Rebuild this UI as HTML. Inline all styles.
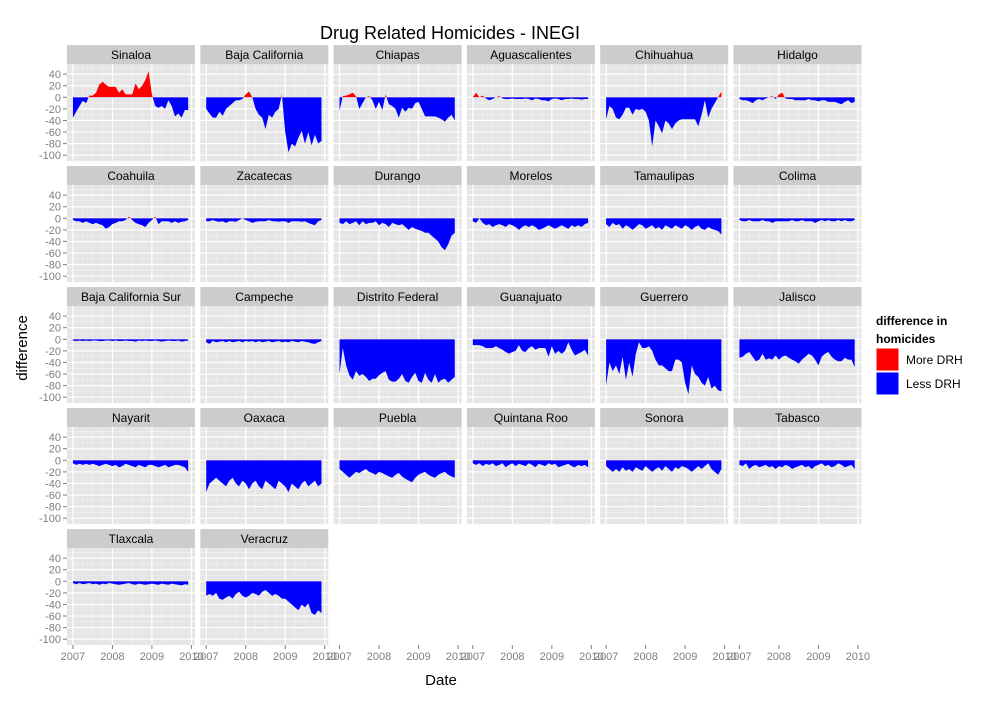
<!DOCTYPE html>
<html><head><meta charset="utf-8"><style>
body{margin:0;background:#fff;font-family:"Liberation Sans",sans-serif}
svg text{font-family:"Liberation Sans",sans-serif}
</style></head><body>
<svg id="c" width="1000" height="700" xmlns="http://www.w3.org/2000/svg">
<text x="450" y="39" font-size="18" text-anchor="middle">Drug Related Homicides - INEGI</text>
<text x="441" y="685" font-size="15" text-anchor="middle">Date</text>
<text transform="translate(27,348) rotate(-90)" font-size="15" text-anchor="middle">difference</text>
<g>
<text x="876" y="325" font-size="12" font-weight="bold">difference in</text>
<text x="876" y="343" font-size="12" font-weight="bold">homicides</text>
<rect x="876" y="348" width="23" height="23" fill="#ff0000" stroke="#fff"/>
<rect x="876" y="372" width="23" height="23" fill="#0000ff" stroke="#fff"/>
<text x="906" y="364" font-size="12">More DRH</text>
<text x="906" y="388" font-size="12">Less DRH</text>
</g>
<g id="plots"></g>
</svg>
<script>
const states = ["Sinaloa","Baja California","Chiapas","Aguascalientes","Chihuahua","Hidalgo","Coahuila","Zacatecas","Durango","Morelos","Tamaulipas","Colima","Baja California Sur","Campeche","Distrito Federal","Guanajuato","Guerrero","Jalisco","Nayarit","Oaxaca","Puebla","Quintana Roo","Sonora","Tabasco","Tlaxcala","Veracruz"];
const yTicks = [40,20,0,-20,-40,-60,-80,-100];
const xTicks = [2007,2008,2009,2010];
const values = [
[-35,-25,-15,-6,-10,3,3,8,22,27,22,18,18,18,8,14,5,5,5,24,14,20,30,45,5,-15,-18,-15,-20,-5,-15,-33,-28,-35,-22,-22],
[-20,-28,-35,-35,-25,-32,-20,-15,-10,-5,-5,-3,5,10,0,-20,-30,-35,-55,-30,-35,-25,-20,5,-60,-95,-80,-85,-70,-58,-80,-60,-83,-65,-80,-75],
[-23,2,3,5,8,2,-20,-10,0,2,-5,-20,-8,-22,5,-12,-15,-20,-35,-18,-25,-18,-20,-10,-8,-20,-33,-33,-33,-33,-35,-38,-42,-35,-30,-40],
[0,8,0,3,-2,-5,-3,0,2,-2,-3,-3,-2,-3,-3,-3,-2,-3,-5,-2,-3,-5,-5,-7,-3,-2,-3,-5,-3,-3,-2,-3,-3,-4,-3,-3],
[-38,-15,-20,-35,-38,-30,-18,-18,-30,-20,-22,-20,-25,-40,-85,-40,-50,-62,-40,-45,-55,-45,-40,-38,-38,-38,-38,-38,-50,-30,-5,-35,-20,-10,0,10],
[-3,-5,-5,-7,-10,-5,-3,-5,-2,0,2,-3,5,8,-2,-3,-3,-5,-5,-5,-5,-3,-5,-5,-7,-5,-5,-8,-8,-8,-10,-12,-8,-5,-10,-8],
[-3,-5,-5,-8,-5,-8,-10,-8,-10,-12,-18,-15,-10,-8,-5,-5,-3,3,-3,-8,-10,-12,-15,-8,-3,3,-10,-5,-5,-5,-8,-5,-8,-6,-5,-3],
[-5,-5,-3,-5,-6,-5,-8,-5,-5,-6,-3,0,-3,-5,-8,-6,-5,-5,-5,-3,-5,-5,-6,-5,-5,-8,-5,-5,-5,-6,-5,-8,-10,-12,-5,-3],
[-8,-10,-5,-10,-8,-5,-12,-5,-10,-8,-8,-5,-12,-8,-10,-15,-8,-10,-12,-10,-15,-20,-15,-18,-20,-22,-25,-25,-30,-35,-40,-50,-55,-45,-30,-25],
[-5,-8,0,-8,-12,-10,-15,-12,-10,-12,-15,-10,-12,-15,-20,-15,-12,-15,-12,-15,-20,-18,-15,-12,-15,-18,-15,-12,-15,-18,-12,-15,-12,-15,-10,-8],
[-10,-15,-8,-12,-10,-18,-12,-15,-20,-15,-10,-12,-18,-15,-12,-18,-15,-20,-12,-15,-18,-12,-15,-18,-12,-15,-20,-15,-12,-18,-20,-15,-18,-20,-22,-28],
[-3,-5,-5,-3,-5,-5,-5,-3,-5,-5,-8,-5,-5,-5,-5,-5,-3,-5,-5,-3,-5,-5,-5,-8,-5,-3,-5,-3,-5,-5,-3,-5,-3,-5,-5,-3],
[-2,-3,-2,-3,-2,-3,-2,-2,-3,-3,-2,-2,-3,-2,-3,-3,-2,-3,-3,-4,-2,-3,-2,-3,-3,-2,-3,-4,-3,-2,-3,-3,-2,-4,-3,-2],
[-5,-8,-3,-5,-4,-3,-5,-3,-5,-4,-3,-5,-3,-4,-3,-5,-3,-5,-4,-3,-5,-4,-3,-5,-4,-5,-3,-4,-5,-3,-4,-5,-7,-8,-5,-3],
[-60,-15,-45,-62,-70,-55,-63,-60,-65,-72,-68,-68,-62,-58,-55,-70,-73,-73,-68,-60,-72,-75,-65,-58,-72,-75,-58,-70,-75,-60,-75,-70,-68,-75,-70,-65],
[-10,-10,-10,-12,-15,-15,-15,-12,-15,-18,-22,-25,-22,-20,-10,-20,-22,-15,-12,-18,-15,-15,-15,-30,-12,-25,-20,-25,-20,-5,-18,-28,-25,-22,-18,-28],
[-80,-40,-55,-45,-60,-30,-70,-40,-65,-25,-5,-15,-15,-12,-20,-35,-45,-45,-50,-55,-55,-35,-35,-40,-75,-95,-45,-60,-65,-75,-80,-65,-85,-80,-88,-90],
[-32,-30,-25,-22,-30,-38,-35,-25,-35,-33,-35,-28,-35,-30,-28,-32,-35,-38,-42,-35,-30,-25,-28,-35,-45,-30,-25,-22,-30,-35,-38,-38,-32,-35,-35,-48],
[-5,-8,-6,-8,-6,-8,-6,-8,-10,-8,-6,-8,-10,-8,-12,-10,-6,-8,-10,-12,-8,-10,-12,-8,-8,-10,-12,-10,-8,-12,-10,-8,-8,-10,-12,-20],
[-55,-40,-35,-30,-35,-40,-45,-35,-30,-40,-45,-35,-40,-50,-40,-35,-45,-50,-35,-40,-45,-50,-35,-40,-45,-55,-40,-45,-50,-40,-35,-45,-40,-35,-45,-40],
[-15,-20,-25,-30,-25,-20,-22,-18,-15,-20,-22,-25,-20,-22,-25,-28,-30,-25,-22,-28,-32,-35,-38,-30,-25,-22,-20,-25,-28,-30,-25,-22,-20,-25,-28,-30],
[-5,-8,-5,-10,-6,-8,-5,-10,-8,-5,-12,-8,-5,-10,-6,-8,-10,-5,-8,-12,-6,-8,-10,-5,-8,-6,-12,-10,-8,-6,-10,-12,-8,-10,-8,-12],
[-10,-15,-20,-15,-20,-12,-18,-15,-20,-12,-15,-18,-10,-15,-20,-15,-12,-18,-10,-15,-20,-12,-15,-10,-12,-15,-20,-15,-10,-15,-10,-5,-15,-20,-25,-15],
[-8,-10,-5,-15,-10,-8,-12,-10,-8,-12,-10,-15,-10,-12,-8,-10,-15,-12,-10,-8,-12,-10,-15,-10,-8,-5,-10,-8,-12,-10,-5,-8,-12,-10,-8,-15],
[-3,-5,-3,-5,-4,-3,-5,-4,-6,-4,-5,-3,-4,-5,-6,-5,-4,-3,-5,-6,-4,-5,-6,-5,-4,-5,-6,-4,-5,-6,-4,-5,-6,-7,-5,-6],
[-25,-22,-25,-20,-30,-32,-28,-25,-30,-22,-18,-25,-28,-25,-20,-22,-25,-18,-15,-20,-25,-22,-25,-30,-30,-35,-40,-45,-50,-40,-45,-38,-55,-58,-50,-55]
];
const NS="http://www.w3.org/2000/svg";
const g=document.getElementById('plots');
const PW=128, PH=97, SH=19, COLX=67, COLSTEP=133.3, ROWY=45, ROWSTEP=121;
const YMIN=-110, YMAX=57.5, XMIN=2006.85, XMAX=2010.09;
function mk(t,a,p){const e=document.createElementNS(NS,t);for(const k in a)e.setAttribute(k,a[k]);(p||g).appendChild(e);return e;}
states.forEach((name,i)=>{
  const col=i%6,row=Math.floor(i/6);
  const x0=COLX+col*COLSTEP, st=ROWY+row*ROWSTEP, y0=st+SH;
  const sx=v=>x0+(v-XMIN)/(XMAX-XMIN)*PW;
  const sy=v=>y0+(YMAX-v)/(YMAX-YMIN)*PH;
  const pg=mk('g',{});
  
  
  const strip=mk('rect',{x:x0,y:st,width:PW,height:SH,fill:'#cccccc'},pg);
  
  
  const lab=mk('text',{x:x0+PW/2,y:st+14,'font-size':12,'text-anchor':'middle'},pg);
  lab.textContent=name;
  
  
  const bg=mk('rect',{x:x0,y:y0,width:PW,height:PH,fill:'#e5e5e5'},pg);
  
  
  for(let v=-110;v<=50;v+=10){const maj=v%20===0;mk('line',{x1:x0,x2:x0+PW,y1:sy(v),y2:sy(v),stroke:maj?'#fff':'#f2f2f2','stroke-width':maj?1.2:0.6},pg);}
  for(let v=2007;v<=2010;v+=0.25){const maj=Math.abs(v-Math.round(v))<1e-6;mk('line',{y1:y0,y2:y0+PH,x1:sx(v),x2:sx(v),stroke:maj?'#fff':'#f2f2f2','stroke-width':maj?1.2:0.6},pg);}
  const vals=values[i];
  let d='M'+sx(2007)+','+sy(0);
  vals.forEach((v,k)=>{d+='L'+sx(2007+k/12).toFixed(1)+','+sy(v).toFixed(1);});
  d+='L'+sx(2007+35/12)+','+sy(0)+'Z';
  const cid='cp'+i;
  const cp=mk('clipPath',{id:cid+'a'},pg);mk('rect',{x:x0,y:y0,width:PW,height:sy(0)-y0},cp);
  const cp2=mk('clipPath',{id:cid+'b'},pg);mk('rect',{x:x0,y:sy(0),width:PW,height:y0+PH-sy(0)},cp2);
  const a1=mk('path',{d:d,fill:'#ff0000','clip-path':'url(#'+cid+'a)'},pg);
  
  
  const a2=mk('path',{d:d,fill:'#0000ff','clip-path':'url(#'+cid+'b)'},pg);
  
  
  if(col===0){
    yTicks.forEach(t=>{
      mk('line',{x1:x0-4,x2:x0,y1:sy(t),y2:sy(t),stroke:'#7f7f7f'},pg);
      const tl=mk('text',{x:x0-6,y:sy(t)+4,'font-size':11,'text-anchor':'end',fill:'#7f7f7f'},pg);
      tl.textContent=t;
      
      
    });
  }
});
for(let col=0;col<6;col++){
  const x0=COLX+col*COLSTEP, yb=ROWY+4*ROWSTEP+SH+PH;
  const sx=v=>x0+(v-XMIN)/(XMAX-XMIN)*PW;
  xTicks.forEach(t=>{
    mk('line',{x1:sx(t),x2:sx(t),y1:yb,y2:yb+4,stroke:'#7f7f7f'});
    const tl=mk('text',{x:sx(t),y:yb+15,'font-size':11,'text-anchor':'middle',fill:'#7f7f7f'});
    tl.textContent=t;
    
    
  });
}
</script>
</body></html>
